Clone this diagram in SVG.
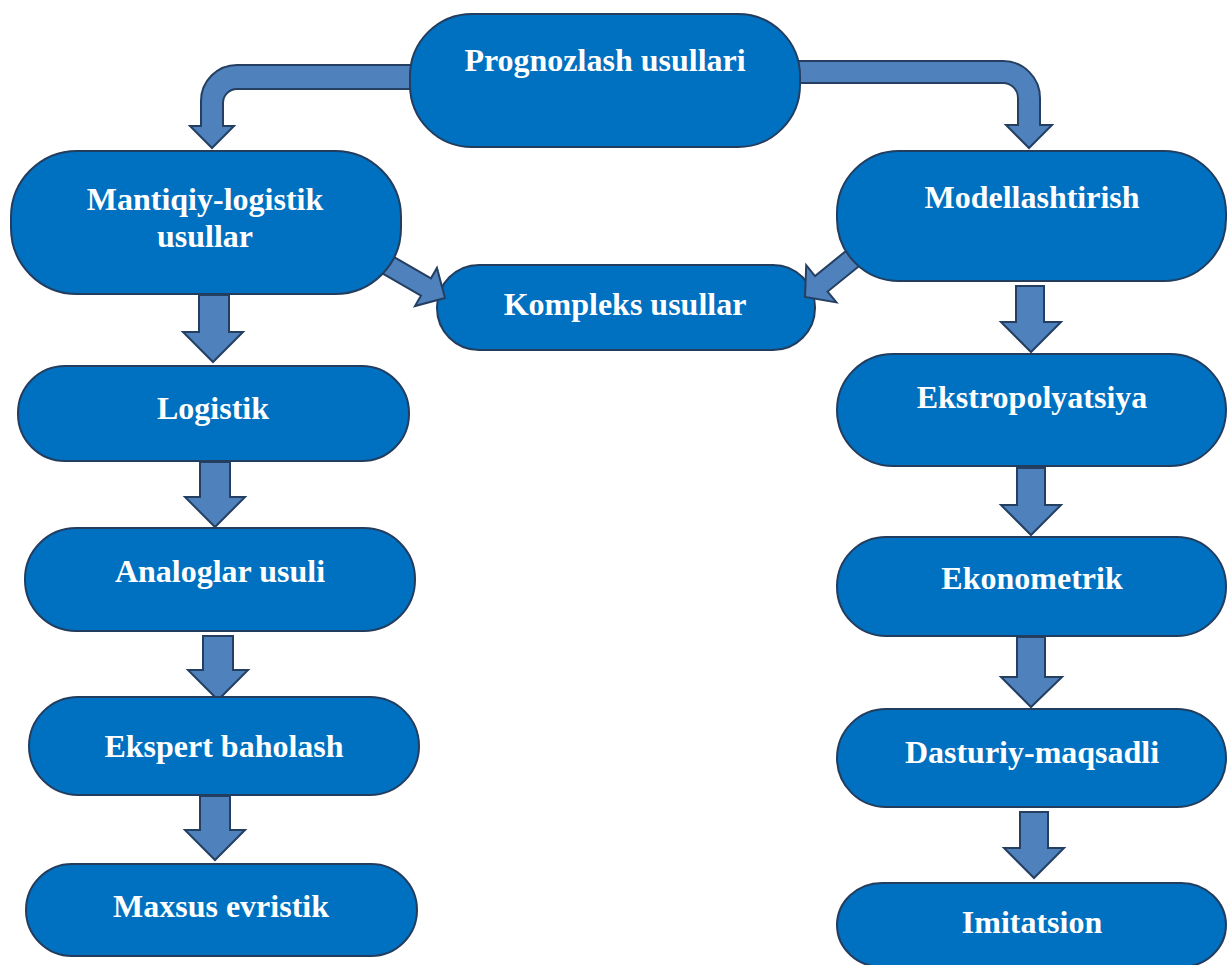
<svg xmlns="http://www.w3.org/2000/svg" width="1227" height="965" viewBox="0 0 1227 965">
<style>
.node{fill:#0070C0;stroke:#233D5E;stroke-width:2}
.arr{fill:#4F81BD;stroke:#243F60;stroke-width:2;stroke-linejoin:miter}
.lbl{font-family:"Liberation Serif","Times New Roman",serif;font-weight:bold;font-size:32px;fill:#FFFFFF;text-anchor:middle}
</style>
<rect width="1227" height="965" fill="#FFFFFF"/>
<g id="node-kompleks">
<rect class="node" x="437" y="265" width="378" height="85" rx="42" ry="42"/>
<text class="lbl" x="625" y="315">Kompleks usullar</text>
</g>
<g id="connectors">
<path class="arr" d="M415,65 H237 A36,36 0 0 0 201,101 V126 H190 L212,148 L234,126 H223 V103 A14,14 0 0 1 237,89 H415 Z"/>
<path class="arr" d="M795,61 H1003 A37,37 0 0 1 1040,98 V125 H1052 L1029,148 L1006,125 H1018 V98 A15,15 0 0 0 1003,83 H795 Z"/>
<polygon class="arr" transform="translate(445,298) rotate(30)" points="-72,-10 -22,-10 -22,-22 0,0 -22,22 -22,10 -72,10"/>
<polygon class="arr" transform="translate(805,297) rotate(141)" points="-70,-10 -21,-10 -21,-24 0,0 -21,24 -21,10 -70,10"/>
<polygon class="arr" points="199,295 229,295 229,332 243,332 213,362 183,332 199,332"/>
<polygon class="arr" points="200,462 230,462 230,497 245,497 215,527 185,497 200,497"/>
<polygon class="arr" points="203,636 233,636 233,670 248,670 218,700 188,670 203,670"/>
<polygon class="arr" points="200,796 230,796 230,830 245,830 215,860 185,830 200,830"/>
<polygon class="arr" points="1016,286 1044,286 1044,322 1061,322 1031,352 1001,322 1016,322"/>
<polygon class="arr" points="1017,468 1045,468 1045,505 1061,505 1031,535 1001,505 1017,505"/>
<polygon class="arr" points="1017,637 1045,637 1045,677 1062,677 1031,707 1001,677 1017,677"/>
<polygon class="arr" points="1020,812 1048,812 1048,848 1064,848 1034,878 1004,848 1020,848"/>
</g>
<g id="node-prognozlash">
<rect class="node" x="410" y="14" width="390" height="133" rx="62" ry="62"/>
<text class="lbl" x="605" y="71">Prognozlash usullari</text>
</g>
<g id="node-mantiqiy">
<rect class="node" x="11" y="151" width="390" height="143" rx="66" ry="66"/>
<text class="lbl" x="205" y="210">Mantiqiy-logistik</text>
<text class="lbl" x="205" y="247">usullar</text>
</g>
<g id="node-modellashtirish">
<rect class="node" x="837" y="151" width="389" height="130" rx="62" ry="62"/>
<text class="lbl" x="1032" y="208">Modellashtirish</text>
</g>
<g id="node-logistik">
<rect class="node" x="18" y="366" width="391" height="95" rx="47" ry="47"/>
<text class="lbl" x="213" y="419">Logistik</text>
</g>
<g id="node-analoglar">
<rect class="node" x="25" y="528" width="390" height="103" rx="51" ry="51"/>
<text class="lbl" x="220" y="582">Analoglar usuli</text>
</g>
<g id="node-ekspert">
<rect class="node" x="29" y="697" width="390" height="98" rx="49" ry="49"/>
<text class="lbl" x="224" y="757">Ekspert baholash</text>
</g>
<g id="node-maxsus">
<rect class="node" x="26" y="864" width="391" height="92" rx="46" ry="46"/>
<text class="lbl" x="221" y="917">Maxsus evristik</text>
</g>
<g id="node-ekstropolyatsiya">
<rect class="node" x="837" y="354" width="389" height="112" rx="56" ry="56"/>
<text class="lbl" x="1032" y="408">Ekstropolyatsiya</text>
</g>
<g id="node-ekonometrik">
<rect class="node" x="837" y="537" width="389" height="99" rx="49" ry="49"/>
<text class="lbl" x="1032" y="589">Ekonometrik</text>
</g>
<g id="node-dasturiy">
<rect class="node" x="837" y="709" width="389" height="98" rx="49" ry="49"/>
<text class="lbl" x="1032" y="763">Dasturiy-maqsadli</text>
</g>
<g id="node-imitatsion">
<rect class="node" x="837" y="883" width="389" height="84" rx="45" ry="45"/>
<text class="lbl" x="1032" y="933">Imitatsion</text>
</g>
</svg>
